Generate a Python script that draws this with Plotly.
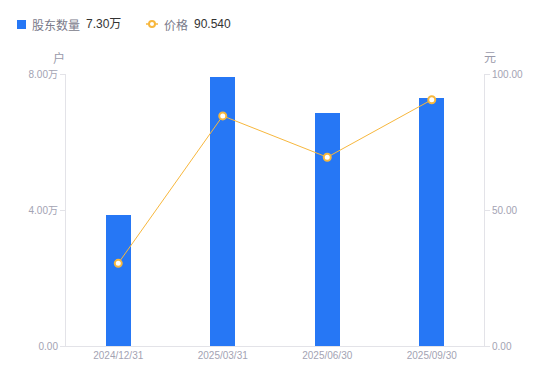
import plotly.graph_objects as go

dates = ["2024/12/31", "2025/03/31", "2025/06/30", "2025/09/30"]
holders = [38500, 79200, 68600, 73000]   # 户
prices = [30.4, 84.6, 69.4, 90.54]       # 元
left_ticks = [0, 40000, 80000]
right_ticks = [0, 50, 100]

def wan(v):
    return "0.00" if v == 0 else f"{v/10000:.2f}万"

BLUE = "#2677F5"
ORANGE = "#F7B73D"
AXIS = "#E3E3E8"
TICKC = "#A3A3B3"
FONT = "Liberation Sans, Noto Sans CJK SC, sans-serif"

fig = go.Figure()
fig.add_trace(go.Bar(x=dates, y=holders, marker=dict(color=BLUE, line=dict(width=0)),
                     width=0.24, showlegend=False, yaxis="y"))
fig.add_trace(go.Scatter(x=dates, y=prices, mode="lines+markers", yaxis="y2",
                         line=dict(color=ORANGE, width=1),
                         marker=dict(symbol="circle", size=7, color="white",
                                     line=dict(color=ORANGE, width=2)),
                         showlegend=False))

fig.update_layout(
    width=550, height=381,
    margin=dict(l=66, r=66, t=74, b=35),
    plot_bgcolor="white", paper_bgcolor="white",
    font=dict(family=FONT, size=10, color=TICKC),
    bargap=0,
    xaxis=dict(type="category", range=[-0.5, 3.5], showgrid=False,
               showline=True, linecolor=AXIS, linewidth=1, ticks="",
               tickfont=dict(size=10, color=TICKC), fixedrange=True),
    yaxis=dict(range=[0, 80000], tickvals=left_ticks, ticktext=[wan(v) for v in left_ticks],
               showgrid=False, zeroline=False, showline=True, linecolor=AXIS, linewidth=1,
               ticks="outside", ticklen=5, tickcolor=AXIS,
               tickfont=dict(size=10, color=TICKC)),
    yaxis2=dict(range=[0, 100], tickvals=right_ticks, ticktext=[f"{v:.2f}" for v in right_ticks],
                overlaying="y", side="right", showgrid=False, zeroline=False,
                showline=True, linecolor=AXIS, linewidth=1,
                ticks="outside", ticklen=5, tickcolor=AXIS,
                tickfont=dict(size=10, color=TICKC)),
)

# axis unit titles
fig.add_annotation(text="户", xref="paper", yref="paper", x=0, y=1, xshift=-7, yshift=16,
                   showarrow=False, font=dict(size=12, color="#9A9AAA"), xanchor="center", yanchor="middle")
fig.add_annotation(text="元", xref="paper", yref="paper", x=1, y=1, xshift=6, yshift=16,
                   showarrow=False, font=dict(size=12, color="#9A9AAA"), xanchor="center", yanchor="middle")

# custom legend
ly = 24
fig.add_shape(type="rect", xref="paper", yref="paper",
              x0=(17-66)/418, x1=(26-66)/418, y0=(381-35-29)/272 - 0, y1=(381-35-20)/272,
              fillcolor=BLUE, line=dict(width=0))
fig.add_annotation(text="股东数量", xref="paper", yref="paper", x=(30-66)/418, y=(381-35-ly)/272,
                   xanchor="left", yanchor="middle", showarrow=False,
                   font=dict(size=12, color="#7A7A8A", family="Noto Sans CJK SC"))
fig.add_annotation(text=wan(holders[-1]), xref="paper", yref="paper", x=(84-66)/418, y=(381-35-ly)/272,
                   xanchor="left", yanchor="middle", showarrow=False,
                   font=dict(size=12, color="#333333"))
fig.add_shape(type="line", xref="paper", yref="paper",
              x0=(146-66)/418, x1=(158-66)/418, y0=(381-35-ly)/272, y1=(381-35-ly)/272,
              line=dict(color=ORANGE, width=1.5))
fig.add_shape(type="circle", xref="paper", yref="paper",
              x0=(149-66)/418, x1=(155-66)/418, y0=(381-35-ly-3)/272, y1=(381-35-ly+3)/272,
              fillcolor="white", line=dict(color=ORANGE, width=2))
fig.add_annotation(text="价格", xref="paper", yref="paper", x=(162-66)/418, y=(381-35-ly)/272,
                   xanchor="left", yanchor="middle", showarrow=False,
                   font=dict(size=12, color="#7A7A8A", family="Noto Sans CJK SC"))
fig.add_annotation(text=f"{prices[-1]:.3f}", xref="paper", yref="paper", x=(192-66)/418, y=(381-35-ly)/272,
                   xanchor="left", yanchor="middle", showarrow=False,
                   font=dict(size=12, color="#333333"))

fig.write_html("out.html", post_script="document.body.style.margin='0';",
               config={"displayModeBar": False})
